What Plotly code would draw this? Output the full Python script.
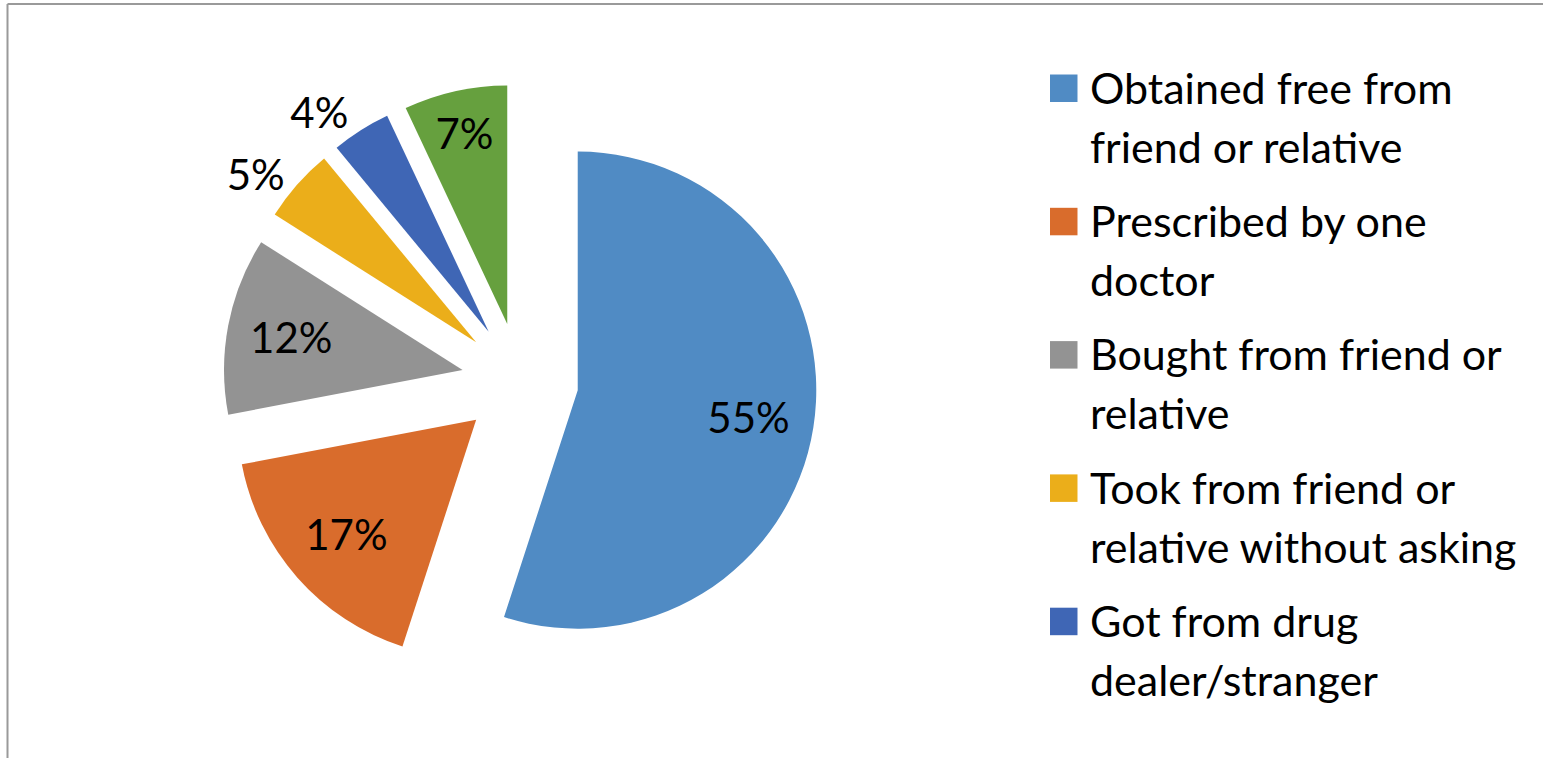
import plotly.graph_objects as go

# Sources of misused prescription pain relievers (share of respondents)
labels = [
    "Obtained free from friend or relative",
    "Prescribed by one doctor",
    "Bought from friend or relative",
    "Took from friend or relative without asking",
    "Got from drug dealer/stranger",
    "Other",
]
legend_lines = [
    ["Obtained free from", "friend or relative"],
    ["Prescribed by one", "doctor"],
    ["Bought from friend or", "relative"],
    ["Took from friend or", "relative without asking"],
    ["Got from drug", "dealer/stranger"],
    ["Other"],
]
values = [55, 17, 12, 5, 4, 7]
colors = ["#508bc4", "#d96c2c", "#939393", "#ebae1a", "#3f66b5", "#66a03e"]
text_positions = ["inside", "inside", "inside", "outside", "outside", "inside"]

W, H = 1543, 758
FONT = "Lato"
FS = 42          # data labels
FS_LEG = 43      # legend text
PULL = 0.245

# pie box (pixels): centre and half-size including the pull-out
cx, cy, half = 520, 381, 297
domain = dict(
    x=[(cx - half) / W, (cx + half) / W],
    y=[1 - (cy + half) / H, 1 - (cy - half) / H],
)

fig = go.Figure()

# coloured slices
fig.add_trace(go.Pie(
    labels=labels, values=values, sort=False, direction="clockwise",
    rotation=0, pull=[PULL] * len(values),
    marker=dict(colors=colors, line=dict(width=0)),
    textinfo="none", showlegend=False, hoverinfo="label+percent",
    domain=domain,
))

# percentage labels: a transparent ring over the same slices keeps the
# inside labels out towards the rim, as in Excel's "best fit"
fig.add_trace(go.Pie(
    labels=labels, values=values, sort=False, direction="clockwise",
    rotation=0, pull=[PULL] * len(values), hole=0.45,
    marker=dict(colors=["rgba(0,0,0,0)"] * len(values), line=dict(width=0)),
    texttemplate="%{percent:.0%}", textposition=text_positions,
    insidetextorientation="horizontal",
    textfont=dict(family=FONT, size=FS, color="black"),
    showlegend=False, hoverinfo="skip",
    domain=domain,
))

# legend: Excel drops the last entry because it does not fit
shapes = []
annotations = []
first_baseline, item_step, line_step = 102, 133.3, 59
sq_x0, sq_size, text_x = 1050, 27.5, 1088
for i in range(5):
    base = first_baseline + i * item_step
    shapes.append(dict(
        type="rect", xref="paper", yref="paper",
        x0=sq_x0 / W, x1=(sq_x0 + sq_size) / W,
        y0=1 - base / H, y1=1 - (base - sq_size) / H,
        fillcolor=colors[i], line=dict(width=0),
    ))
    for j, line in enumerate(legend_lines[i]):
        b = base + j * line_step
        annotations.append(dict(
            text=line, xref="paper", yref="paper",
            x=text_x / W, y=1 - (b - 0.345 * FS_LEG) / H,
            xanchor="left", yanchor="middle", showarrow=False,
            font=dict(family=FONT, size=FS_LEG, color="black"),
        ))

# chart-area border (only top and left edges fall inside the frame)
shapes.append(dict(type="line", xref="paper", yref="paper",
                   x0=7.5 / W, x1=1.0, y0=1 - 4 / H, y1=1 - 4 / H,
                   line=dict(color="#9a9a9a", width=2)))
shapes.append(dict(type="line", xref="paper", yref="paper",
                   x0=7.5 / W, x1=7.5 / W, y0=1 - 4 / H, y1=0,
                   line=dict(color="#9a9a9a", width=2)))

fig.update_layout(
    width=W, height=H,
    margin=dict(l=0, r=0, t=0, b=0, autoexpand=False),
    paper_bgcolor="white", plot_bgcolor="white",
    shapes=shapes, annotations=annotations,
    font=dict(family=FONT),
)

fig.write_html("out.html")
